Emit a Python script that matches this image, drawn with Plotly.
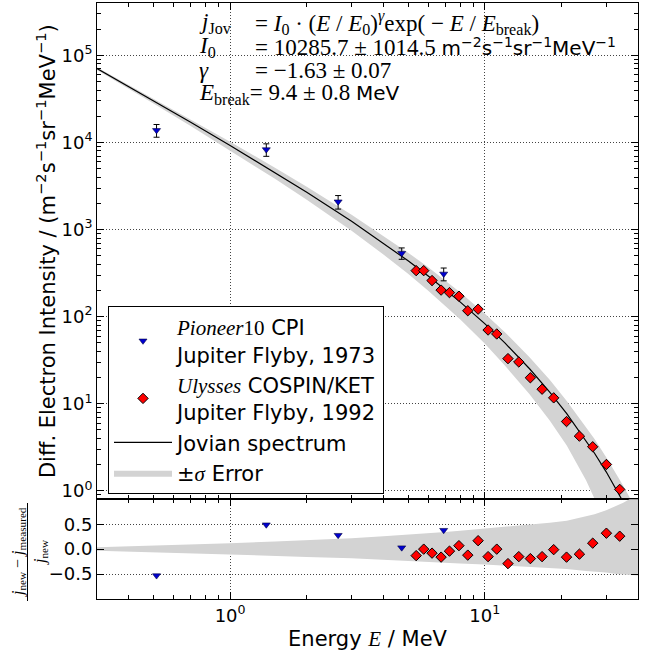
import math
import plotly.graph_objects as go

# ---------------- data ----------------
# Jovian model spectrum (values along the fitted curve)
E_MODEL = [0.3, 0.5, 0.7, 1, 1.5, 2, 3, 4, 5, 6, 7, 8, 10, 12, 15, 18, 21, 25, 27, 30, 33, 35, 37, 40]
J_MODEL = [70894, 30186, 17076, 9247.6, 4528, 2686.3, 1247.4, 701.5, 438.4, 292.9, 204.8, 148.1,
           83.2, 49.97, 25.25, 13.64, 7.707, 3.790, 2.702, 1.654, 1.029, 0.756, 0.558, 0.357]
# relative +-sigma band (fraction below / above the model)
SIG_DOWN = [0.04, 0.07, 0.095, 0.12, 0.155, 0.18, 0.22, 0.26, 0.29, 0.32, 0.345, 0.37,
            0.41, 0.45, 0.49, 0.53, 0.57, 0.65, 0.70, 0.78, 0.87, 0.93, 1.0, 1.2]
SIG_UP = [0.03, 0.055, 0.08, 0.105, 0.135, 0.155, 0.185, 0.215, 0.24, 0.26, 0.275, 0.29,
          0.31, 0.33, 0.355, 0.38, 0.40, 0.44, 0.455, 0.47, 0.50, 0.51, 0.52, 0.53]

# Pioneer 10 CPI, Jupiter flyby 1973
PIONEER_E = [0.514, 1.387, 2.656, 4.72, 6.90]
PIONEER_J = [13800, 8300, 2090, 536, 310]
PIONEER_ERR = [2300, 1360, 370, 80, 52]
PIONEER_RES = [-0.53, 0.49, 0.28, 0.03, 0.38]

# Ulysses COSPIN/KET, Jupiter flyby 1992
ULYSSES_E = [5.38, 5.76, 6.21, 6.74, 7.27, 7.92, 8.58, 9.42, 10.31, 11.15,
             12.34, 13.61, 15.11, 16.80, 18.66, 20.96, 23.55, 26.56, 30.06, 33.90]
ULYSSES_J = [338, 338, 260, 202, 189, 172, 117, 122, 70.3, 63.3,
             33.0, 30.2, 19.9, 14.7, 11.7, 6.25, 4.25, 3.21, 2.01, 1.04]
ULYSSES_RES = [-0.13, 0.0, -0.08, -0.16, -0.04, 0.07, -0.12, 0.17, -0.15, 0.0,
               -0.29, -0.15, -0.19, -0.15, -0.01, -0.16, -0.10, 0.12, 0.32, 0.26]

# axis ticks
X_TICKS = [1, 10]
X_TICKTEXT = ["10<sup>0</sup>", "10<sup>1</sup>"]
X_MINOR = [0.3, 0.4, 0.5, 0.6, 0.7, 0.8, 0.9, 2, 3, 4, 5, 6, 7, 8, 9, 20, 30, 40]
Y_TICKS = [1, 10, 100, 1e3, 1e4, 1e5]
Y_TICKTEXT = ["10<sup>0</sup>", "10<sup>1</sup>", "10<sup>2</sup>", "10<sup>3</sup>",
              "10<sup>4</sup>", "10<sup>5</sup>"]
Y_MINOR = [0.8, 0.9] + [m * 10 ** k for k in range(0, 6) for m in range(2, 10) if m * 10 ** k <= 4e5]
RES_TICKS = [-0.5, 0.0, 0.5]
RES_TICKTEXT = ["\u22120.5", "0.0", "0.5"]

X_RANGE = [0.3, 40]
Y_RANGE = [0.8, 4e5]
RES_RANGE = [-1, 1]

# ---------------- derived ----------------
band_hi = [j * (1 + u) for j, u in zip(J_MODEL, SIG_UP)]
band_lo = [j * max(1 - d, 1e-3) for j, d in zip(J_MODEL, SIG_DOWN)]
res_hi = list(SIG_DOWN)
res_lo = [-u for u in SIG_UP]

SERIF = "Liberation Serif"
SANS = "DejaVu Sans"
GRAY = "#d3d3d3"

fig = go.Figure()

# main panel band
fig.add_trace(go.Scatter(
    x=E_MODEL + E_MODEL[::-1], y=band_hi + band_lo[::-1],
    fill="toself", fillcolor=GRAY, mode="lines", line=dict(width=0, color=GRAY),
    name="\u00b1<i><span style=\"font-family:%s\">\u03c3</span></i> Error" % SERIF,
    legendrank=4, xaxis="x", yaxis="y", hoverinfo="skip"))
# model line
fig.add_trace(go.Scatter(
    x=E_MODEL, y=J_MODEL, mode="lines", line=dict(color="black", width=1.2),
    name="Jovian spectrum", legendrank=3, xaxis="x", yaxis="y"))
# Pioneer
fig.add_trace(go.Scatter(
    x=PIONEER_E, y=PIONEER_J, mode="markers",
    marker=dict(symbol="triangle-down", size=7, color="#0000d0", line=dict(color="#000040", width=0.6)),
    error_y=dict(type="data", array=PIONEER_ERR, color="black", thickness=1, width=3),
    name="<span style=\"font-family:%s\"><i>Pioneer</i>10</span> CPI<br>Jupiter Flyby, 1973" % SERIF,
    legendrank=1, xaxis="x", yaxis="y"))
# Ulysses
fig.add_trace(go.Scatter(
    x=ULYSSES_E, y=ULYSSES_J, mode="markers",
    marker=dict(symbol="diamond", size=8, color="#ff0000", line=dict(color="black", width=1)),
    name="<span style=\"font-family:%s\"><i>Ulysses</i></span> COSPIN/KET<br>Jupiter Flyby, 1992" % SERIF,
    legendrank=2, xaxis="x", yaxis="y"))

# residual panel band
fig.add_trace(go.Scatter(
    x=E_MODEL + E_MODEL[::-1], y=res_hi + res_lo[::-1],
    fill="toself", fillcolor=GRAY, mode="lines", line=dict(width=0, color=GRAY),
    showlegend=False, xaxis="x2", yaxis="y2", hoverinfo="skip"))
fig.add_trace(go.Scatter(
    x=PIONEER_E, y=PIONEER_RES, mode="markers",
    marker=dict(symbol="triangle-down", size=7, color="#0000d0", line=dict(color="#000040", width=0.6)),
    showlegend=False, xaxis="x2", yaxis="y2"))
fig.add_trace(go.Scatter(
    x=ULYSSES_E, y=ULYSSES_RES, mode="markers",
    marker=dict(symbol="diamond", size=8, color="#ff0000", line=dict(color="black", width=1)),
    showlegend=False, xaxis="x2", yaxis="y2"))

# zero line in residual panel
fig.add_shape(type="line", xref="x2 domain", x0=0, x1=1, yref="y2", y0=0, y1=0,
              line=dict(color="black", width=1.2), layer="below")

W, H = 651, 655
ML, MR, MT, MB = 97, 13, 3, 56
PW, PH = W - ML - MR, H - MT - MB
RES_FRAC = 99.7 / PH


def px(xp):
    return (xp - ML) / PW


def py(yp):
    return (H - MB - yp) / PH


axis_common = dict(showline=True, linecolor="black", linewidth=1, mirror="ticks",
                   ticks="inside", ticklen=7, tickwidth=1, tickcolor="black",
                   showgrid=True, gridcolor="#444", griddash="1px,2px", gridwidth=1,
                   zeroline=False, tickfont=dict(family=SANS, size=18, color="black"))
minor_common = dict(ticks="inside", ticklen=4, tickwidth=1, tickcolor="black", showgrid=False)

fig.update_layout(
    width=W, height=H,
    margin=dict(l=ML, r=MR, t=MT, b=MB),
    paper_bgcolor="white", plot_bgcolor="white",
    font=dict(family=SANS, size=20, color="black"),
    showlegend=True,
    legend=dict(x=px(108), y=py(306), xanchor="left", yanchor="top",
                bordercolor="black", borderwidth=1, bgcolor="white",
                font=dict(family=SANS, size=21, color="black"),
                itemwidth=58, tracegroupgap=0, valign="middle"),
    xaxis=dict(type="log", range=[math.log10(X_RANGE[0]), math.log10(X_RANGE[1])],
               domain=[0, 1], anchor="y", showticklabels=False,
               tickmode="array", tickvals=X_TICKS, ticktext=X_TICKTEXT,
               minor=dict(tickmode="array", tickvals=X_MINOR, **minor_common), **axis_common),
    xaxis2=dict(type="log", range=[math.log10(X_RANGE[0]), math.log10(X_RANGE[1])],
                domain=[0, 1], anchor="y2", showticklabels=True,
                tickmode="array", tickvals=X_TICKS, ticktext=X_TICKTEXT,
                minor=dict(tickmode="array", tickvals=X_MINOR, **minor_common),
                title=dict(text="Energy <span style=\"font-family:%s\"><i>E</i></span> / MeV" % SERIF,
                           font=dict(family=SANS, size=21), standoff=6),
                **axis_common),
    yaxis=dict(type="log", range=[math.log10(Y_RANGE[0]), math.log10(Y_RANGE[1])],
               domain=[RES_FRAC, 1], anchor="x",
               tickmode="array", tickvals=Y_TICKS, ticktext=Y_TICKTEXT,
               minor=dict(tickmode="array", tickvals=Y_MINOR, **minor_common),
               title=dict(text="Diff. Electron Intensity / (m<sup>\u22122</sup>s<sup>\u22121</sup>sr<sup>\u22121</sup>MeV<sup>\u22121</sup>)",
                          font=dict(family=SANS, size=21), standoff=0),
               **axis_common),
    yaxis2=dict(range=RES_RANGE, domain=[0, RES_FRAC], anchor="x2",
                tickmode="array", tickvals=RES_TICKS, ticktext=RES_TICKTEXT,
                **axis_common),
)

# fit-parameter text block
UNIT = "<span style=\"font-family:%s;font-size:20px\">%%s</span>" % SANS
lines_left = [
    "<i>j</i><sub>Jov</sub>",
    "<i>I</i><sub>0</sub>",
    "<i>\u03b3</i>",
]
lines_right = [
    "= <i>I</i><sub>0</sub> \u00b7 (<i>E</i> / <i>E</i><sub>0</sub>)<sup><i>\u03b3</i></sup>exp( \u2212 <i>E</i> / <i>E</i><sub>break</sub>)",
    "= 10285.7 \u00b1 1014.5 " + UNIT % "m<sup>\u22122</sup>s<sup>\u22121</sup>sr<sup>\u22121</sup>MeV<sup>\u22121</sup>",
    "= \u22121.63 \u00b1 0.07",
]
line_y = [23, 47, 71, 94]
for i in range(3):
    fig.add_annotation(text=lines_left[i], xref="paper", yref="paper", x=px(197), y=py(line_y[i]),
                       xanchor="left", yanchor="middle", showarrow=False,
                       font=dict(family=SERIF, size=23, color="black"))
    fig.add_annotation(text=lines_right[i], xref="paper", yref="paper", x=px(253), y=py(line_y[i]),
                       xanchor="left", yanchor="middle", showarrow=False,
                       font=dict(family=SERIF, size=23, color="black"))
fig.add_annotation(text="<i>E</i><sub>break</sub>= 9.4 \u00b1 0.8 " + UNIT % "MeV",
                   xref="paper", yref="paper", x=px(197), y=py(line_y[3]),
                   xanchor="left", yanchor="middle", showarrow=False,
                   font=dict(family=SERIF, size=23, color="black"))

# residual axis label as a fraction
fig.add_annotation(text="<i>j</i><sub>new</sub> \u2212 <i>j</i><sub>measured</sub>", textangle=-90,
                   xref="paper", yref="paper", x=px(18), y=py(552), xanchor="center", yanchor="middle",
                   showarrow=False, font=dict(family=SERIF, size=16, color="black"))
fig.add_shape(type="line", xref="paper", yref="paper", x0=px(27.5), x1=px(27.5), y0=py(503), y1=py(601),
              line=dict(color="black", width=1))
fig.add_annotation(text="<i>j</i><sub>new</sub>", textangle=-90,
                   xref="paper", yref="paper", x=px(40), y=py(552), xanchor="center", yanchor="middle",
                   showarrow=False, font=dict(family=SERIF, size=16, color="black"))

fig.write_html("out.html")
